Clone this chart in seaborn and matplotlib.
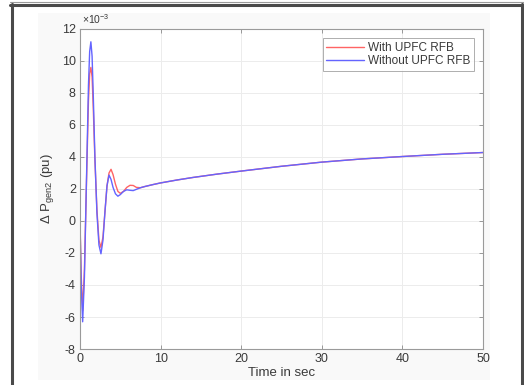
import matplotlib
matplotlib.use("Agg")
import matplotlib.pyplot as plt
import seaborn as sns
import pandas as pd
from matplotlib.patches import Rectangle
from matplotlib.lines import Line2D

# ---- data (values in 1e-3 pu) ----
t_early = [0, 0.15, 0.33, 0.55, 0.8, 1.05, 1.2, 1.35, 1.5, 1.65, 1.85, 2.1, 2.35, 2.6, 2.85,
           3.1, 3.35, 3.6, 3.85, 4.1, 4.4, 4.7, 5.0, 5.4, 5.8, 6.2, 6.6, 7.0, 7.5]
t_late = [8, 9, 10, 12, 14, 17, 20, 25, 30, 35, 40, 45, 50]

with_upfc_early = [0, -3.4, -5.6, -3.0, 2.3, 7.5, 9.2, 9.6, 9.0, 7.0, 3.8, 0.7, -1.2, -1.65, -1.0,
                   0.6, 2.2, 3.0, 3.23, 2.9, 2.3, 1.85, 1.73, 1.85, 2.1, 2.23, 2.22, 2.1, 2.08]
without_upfc_early = [0, -4.0, -6.3, -3.5, 2.5, 8.5, 10.6, 11.2, 10.3, 7.8, 4.0, 0.5, -1.5, -2.05, -1.2,
                      0.6, 2.2, 2.87, 2.6, 2.1, 1.7, 1.55, 1.65, 1.85, 1.95, 1.92, 1.9, 1.98, 2.08]
late_values = [2.15, 2.27, 2.38, 2.56, 2.72, 2.93, 3.12, 3.42, 3.68, 3.88, 4.03, 4.17, 4.28]

series_names = ["With UPFC RFB", "Without UPFC RFB"]
xticks = [0, 10, 20, 30, 40, 50]
yticks = [-8, -6, -4, -2, 0, 2, 4, 6, 8, 10, 12]

t_all = t_early + t_late
df = pd.concat([
    pd.DataFrame({"t": t_all, "v": with_upfc_early + late_values, "s": series_names[0]}),
    pd.DataFrame({"t": t_all, "v": without_upfc_early + late_values, "s": series_names[1]}),
])

sns.set_theme(style="white")
plt.rcParams["font.family"] = ["Liberation Sans", "DejaVu Sans"]
plt.rcParams["mathtext.default"] = "regular"

W, H = 524, 385
fig = plt.figure(figsize=(W / 100, H / 100), dpi=100)
fig.patch.set_facecolor("white")

# outer frame decorations
fig.add_artist(Rectangle((38 / W, 1 - 380 / H), (490 - 38) / W, (380 - 13) / H,
                         transform=fig.transFigure, facecolor="#f9f9f9", edgecolor="none", zorder=0))
fig.add_artist(Line2D([10 / W, 1], [1 - 1.5 / H, 1 - 1.5 / H], transform=fig.transFigure,
                      color="#9a9a9a", lw=0.8))
fig.add_artist(Line2D([10 / W, 1], [1 - 5 / H, 1 - 5 / H], transform=fig.transFigure,
                      color="#4a4a4a", lw=2.2))
fig.add_artist(Line2D([11.5 / W, 11.5 / W], [0, 1 - 4 / H], transform=fig.transFigure,
                      color="#4a4a4a", lw=2.2))
fig.add_artist(Line2D([521.5 / W, 521.5 / W], [0, 1 - 4 / H], transform=fig.transFigure,
                      color="#4a4a4a", lw=2.2))

ax = fig.add_axes([80 / W, 1 - 349 / H, (483 - 80) / W, (349 - 29) / H])
ax.set_facecolor("white")

red, blue = "#ff6464", "#6464ff"
sns.lineplot(data=df, x="t", y="v", hue="s", hue_order=series_names,
             palette=[red, blue], linewidth=1.0, ax=ax, legend=False,
             sort=False, estimator=None)

ax.set_xlim(0, 50)
ax.set_ylim(-8, 12)
ax.set_xticks(xticks)
ax.set_yticks(yticks)
ax.set_xticklabels([str(v) for v in xticks])
ax.set_yticklabels([str(v) for v in yticks])
ax.grid(True, color="#ececec", lw=0.7)
ax.tick_params(direction="in", length=3, width=0.6, colors="#8a8a8a",
               labelcolor="#3a3a3a", labelsize=9, top=True, right=True,
               bottom=True, left=True, labeltop=False, labelright=False, pad=3)
for sp in ax.spines.values():
    sp.set_visible(True)
    sp.set_color("#9a9a9a")
    sp.set_linewidth(0.8)

ax.set_xlabel("Time in sec", fontsize=9.5, color="#3a3a3a", labelpad=1)
ax.set_ylabel("Δ P$_{gen2}$ (pu)", fontsize=9.5, color="#3a3a3a", labelpad=4)
ax.text(0.005, 1.01, "×10$^{-3}$", transform=ax.transAxes, fontsize=7.5,
        color="#3a3a3a", ha="left", va="bottom")

handles = [Line2D([], [], color=red, lw=1.0), Line2D([], [], color=blue, lw=1.0)]
leg = ax.legend(handles, series_names, loc="upper right", fontsize=8.5, frameon=True,
                fancybox=False, handlelength=3.2, handletextpad=0.3, borderpad=0.3,
                labelspacing=0.1, borderaxespad=0.8)
leg.get_frame().set_edgecolor("#9a9a9a")
leg.get_frame().set_linewidth(0.7)
for txt in leg.get_texts():
    txt.set_color("#3a3a3a")

fig.savefig("out.png", dpi=100)
